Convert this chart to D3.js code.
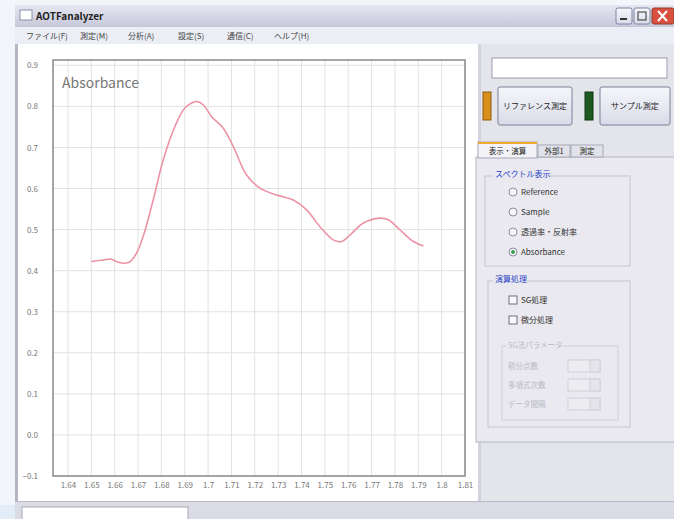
<!DOCTYPE html>
<html>
<head>
<meta charset="utf-8">
<title>AOTFanalyzer</title>
<script src="https://cdn.jsdelivr.net/npm/d3@7/dist/d3.min.js"></script>
<style>
    body { margin: 0; background: #fff; overflow: hidden; }
    text { font-family: "Noto Sans CJK JP", "Liberation Sans", sans-serif; }
</style>
</head>
<body>
<script>
    // spectrum
    var wavelength = [1.6501, 1.6551, 1.6587, 1.6609, 1.6644, 1.6666, 1.6694, 1.6722, 1.6765, 1.6808,
        1.6858, 1.6901, 1.6951, 1.6979, 1.7015, 1.7065, 1.7108, 1.7165, 1.7222, 1.7294,
        1.7365, 1.7422, 1.7479, 1.7536, 1.7572, 1.7608, 1.7665, 1.7736, 1.7772, 1.7822,
        1.7879, 1.7922];
    var absorbance = [0.422, 0.426, 0.428, 0.422, 0.418, 0.422, 0.443, 0.483, 0.572, 0.670,
        0.751, 0.796, 0.812, 0.804, 0.775, 0.747, 0.702, 0.633, 0.601, 0.584,
        0.572, 0.548, 0.507, 0.475, 0.471, 0.487, 0.516, 0.528, 0.524, 0.499,
        0.471, 0.460];

    var xTicks = [1.64, 1.65, 1.66, 1.67, 1.68, 1.69, 1.70, 1.71, 1.72, 1.73, 1.74, 1.75, 1.76, 1.77, 1.78, 1.79, 1.80, 1.81];
    var xTickLabels = ["1.64", "1.65", "1.66", "1.67", "1.68", "1.69", "1.7", "1.71", "1.72", "1.73", "1.74", "1.75", "1.76", "1.77", "1.78", "1.79", "1.8", "1.81"];
    var yTicks = [-0.1, 0, 0.1, 0.2, 0.3, 0.4, 0.5, 0.6, 0.7, 0.8, 0.9];

    var menuItems = ["ファイル(F)", "測定(M)", "分析(A)", "設定(S)", "通信(C)", "ヘルプ(H)"];
    var menuX = [26, 80, 128, 178, 227, 274];
    var tabNames = ["表示・演算", "外部1", "測定"];
    var spectrumModes = ["Reference", "Sample", "透過率・反射率", "Absorbance"];
    var procOptions = ["SG処理", "微分処理"];
    var sgParams = ["積分点数", "多項式次数", "データ間隔"];

    var W = 674, H = 519;
    var svg = d3.select("body").append("svg")
        .attr("width", W)
        .attr("height", H);

    var defs = svg.append("defs");
    var tg = defs.append("linearGradient").attr("id", "titleGrad").attr("x1", 0).attr("y1", 0).attr("x2", 0).attr("y2", 1);
    tg.append("stop").attr("offset", "0%").attr("stop-color", "#e6e7f1");
    tg.append("stop").attr("offset", "100%").attr("stop-color", "#c6c8da");
    var bg = defs.append("linearGradient").attr("id", "btnGrad").attr("x1", 0).attr("y1", 0).attr("x2", 0).attr("y2", 1);
    bg.append("stop").attr("offset", "0%").attr("stop-color", "#f6f7fb");
    bg.append("stop").attr("offset", "100%").attr("stop-color", "#d9dbe8");

    // ---- window chrome ----
    svg.append("rect").attr("width", W).attr("height", H).attr("fill", "#f3f5fa");
    svg.append("rect").attr("x", 15).attr("y", 5).attr("width", W - 15).attr("height", 22).attr("fill", "url(#titleGrad)");
    svg.append("rect").attr("x", 20).attr("y", 10).attr("width", 12).attr("height", 10)
        .attr("fill", "#fff").attr("stroke", "#8a8ea8");
    svg.append("text").attr("x", 36).attr("y", 20).attr("font-size", 10).attr("font-weight", "bold")
        .attr("fill", "#222").text("AOTFanalyzer");

    // min / max / close
    [616, 634].forEach(function (bx) {
        svg.append("rect").attr("x", bx).attr("y", 8).attr("width", 16).attr("height", 16)
            .attr("rx", 2).attr("fill", "url(#btnGrad)").attr("stroke", "#7f86a4");
    });
    svg.append("rect").attr("x", 620).attr("y", 18).attr("width", 7).attr("height", 2).attr("fill", "#333");
    svg.append("rect").attr("x", 638).attr("y", 12).attr("width", 8).attr("height", 8).attr("fill", "none").attr("stroke", "#333");
    svg.append("rect").attr("x", 652).attr("y", 8).attr("width", 22).attr("height", 16)
        .attr("rx", 2).attr("fill", "#d9503f").attr("stroke", "#8e3a30");
    svg.append("path").attr("d", "M658,11 L667,21 M667,11 L658,21").attr("stroke", "#fff").attr("stroke-width", 2);

    // menu bar
    svg.append("rect").attr("x", 15).attr("y", 27).attr("width", W - 15).attr("height", 17).attr("fill", "#eceef5");
    svg.selectAll(".menu").data(menuItems).enter().append("text")
        .attr("class", "menu")
        .attr("x", function (d, i) { return menuX[i]; })
        .attr("y", 39)
        .attr("font-size", 8)
        .attr("fill", "#444")
        .text(function (d) { return d; });

    // chart pane
    svg.append("rect").attr("x", 15).attr("y", 44).attr("width", 463).attr("height", 457).attr("fill", "#fff");
    svg.append("rect").attr("x", 15).attr("y", 44).attr("width", 3).attr("height", 457).attr("fill", "#b4b6c4");
    // right pane
    svg.append("rect").attr("x", 478).attr("y", 44).attr("width", W - 478).attr("height", 457).attr("fill", "#e4e4eb");
    svg.append("rect").attr("x", 478).attr("y", 44).attr("width", 3).attr("height", 457).attr("fill", "#d2d3dc");
    // status bar
    svg.append("rect").attr("x", 15).attr("y", 501).attr("width", W - 15).attr("height", 18).attr("fill", "#dadbe4");
    svg.append("line").attr("x1", 15).attr("x2", W).attr("y1", 501.5).attr("y2", 501.5).attr("stroke", "#b8bac6");
    svg.append("rect").attr("x", 22).attr("y", 507).attr("width", 166).attr("height", 14)
        .attr("fill", "#fff").attr("stroke", "#a8aab8");
    svg.append("rect").attr("x", 0).attr("y", 505).attr("width", 15).attr("height", 14).attr("fill", "#e3edf8");

    // ---- chart ----
    var plot = { left: 53, top: 60, right: 465, bottom: 476 };

    var x = d3.scaleLinear()
        .domain([1.6336, 1.81])
        .range([plot.left, plot.right]);
    var y = d3.scaleLinear()
        .domain([-0.1, 0.913])
        .range([plot.bottom, plot.top]);

    var chart = svg.append("g");

    chart.append("g")
        .selectAll("line").data(xTicks).enter().append("line")
        .attr("x1", function (d) { return x(d); })
        .attr("x2", function (d) { return x(d); })
        .attr("y1", plot.top)
        .attr("y2", plot.bottom)
        .attr("stroke", "#e2e2e2")
        .attr("stroke-width", 1);

    chart.append("g")
        .selectAll("line").data(yTicks).enter().append("line")
        .attr("x1", plot.left)
        .attr("x2", plot.right)
        .attr("y1", function (d) { return y(d); })
        .attr("y2", function (d) { return y(d); })
        .attr("stroke", "#e2e2e2")
        .attr("stroke-width", 1);

    chart.append("rect")
        .attr("x", plot.left).attr("y", plot.top)
        .attr("width", plot.right - plot.left).attr("height", plot.bottom - plot.top)
        .attr("fill", "none").attr("stroke", "#8a8a8a").attr("stroke-width", 1.5);

    var yAxis = chart.append("g")
        .attr("transform", "translate(" + plot.left + ",0)")
        .call(d3.axisLeft(y).tickValues(yTicks).tickFormat(d3.format(".1f")).tickSize(0).tickPadding(15));
    yAxis.select(".domain").remove();
    yAxis.selectAll("text").attr("font-size", 8).attr("fill", "#777")
        .attr("font-family", "Liberation Sans, sans-serif");

    var xAxis = chart.append("g")
        .attr("transform", "translate(0," + plot.bottom + ")")
        .call(d3.axisBottom(x).tickValues(xTicks)
            .tickFormat(function (d, i) { return xTickLabels[i]; })
            .tickSize(0).tickPadding(6));
    xAxis.select(".domain").remove();
    xAxis.selectAll("text").attr("font-size", 8).attr("fill", "#777")
        .attr("font-family", "Liberation Sans, sans-serif");

    chart.append("text")
        .attr("x", 62).attr("y", 88)
        .attr("font-size", 14)
        .attr("font-family", "Liberation Sans, sans-serif")
        .attr("fill", "#777")
        .text("Absorbance");

    var line = d3.line()
        .x(function (d, i) { return x(wavelength[i]); })
        .y(function (d) { return y(d); })
        .curve(d3.curveCatmullRom);

    chart.append("path")
        .datum(absorbance)
        .attr("d", line)
        .attr("fill", "none")
        .attr("stroke", "#ec93a6")
        .attr("stroke-width", 1.6);

    // ---- right control panel ----
    var panel = svg.append("g");
    panel.append("rect").attr("x", 492).attr("y", 58).attr("width", 175).attr("height", 20)
        .attr("fill", "#fff").attr("stroke", "#9a9cae");

    panel.append("rect").attr("x", 483).attr("y", 92).attr("width", 8).attr("height", 28)
        .attr("fill", "#d9901a").attr("stroke", "#8c5a10");
    panel.append("rect").attr("x", 498).attr("y", 87).attr("width", 74).attr("height", 38)
        .attr("rx", 2).attr("fill", "url(#btnGrad)").attr("stroke", "#7d8099");
    panel.append("text").attr("x", 535).attr("y", 109).attr("text-anchor", "middle")
        .attr("font-size", 8).attr("fill", "#222").text("リファレンス測定");
    panel.append("rect").attr("x", 585).attr("y", 92).attr("width", 8).attr("height", 28)
        .attr("fill", "#1d5a22").attr("stroke", "#0f3512");
    panel.append("rect").attr("x", 600).attr("y", 87).attr("width", 70).attr("height", 38)
        .attr("rx", 2).attr("fill", "url(#btnGrad)").attr("stroke", "#7d8099");
    panel.append("text").attr("x", 635).attr("y", 109).attr("text-anchor", "middle")
        .attr("font-size", 8).attr("fill", "#222").text("サンプル測定");

    // tab page + tabs
    panel.append("rect").attr("x", 476).attr("y", 157).attr("width", 200).attr("height", 285)
        .attr("fill", "#e9e9ef").attr("stroke", "#b4b6c4");
    var tabX = [478, 538, 571], tabW = [59, 32, 32];
    tabNames.forEach(function (t, i) {
        panel.append("rect").attr("x", tabX[i]).attr("y", i === 0 ? 142 : 145)
            .attr("width", tabW[i]).attr("height", i === 0 ? 16 : 12)
            .attr("fill", i === 0 ? "#f4f4f8" : "#e1e2ea").attr("stroke", "#a6a8b8");
        panel.append("text").attr("x", tabX[i] + tabW[i] / 2).attr("y", 154)
            .attr("text-anchor", "middle")
            .attr("font-size", 7.5).attr("fill", "#222").text(t);
    });
    panel.append("rect").attr("x", 478).attr("y", 142).attr("width", 59).attr("height", 2).attr("fill", "#f0a830");

    // spectrum display group
    panel.append("rect").attr("x", 485).attr("y", 176).attr("width", 145).attr("height", 90)
        .attr("fill", "none").attr("stroke", "#c4c6d2");
    panel.append("rect").attr("x", 493).attr("y", 168).attr("width", 56).attr("height", 11).attr("fill", "#e9e9ef");
    panel.append("text").attr("x", 495).attr("y", 177).attr("font-size", 8).attr("fill", "#2b3fc8").text("スペクトル表示");
    spectrumModes.forEach(function (m, i) {
        var cy = 192 + i * 20;
        panel.append("circle").attr("cx", 513).attr("cy", cy).attr("r", 4)
            .attr("fill", "#f6f6fa").attr("stroke", "#8c8ea0");
        if (i === 3) {
            panel.append("circle").attr("cx", 513).attr("cy", cy).attr("r", 2).attr("fill", "#3aa050");
        }
        panel.append("text").attr("x", 521).attr("y", cy + 3).attr("font-size", 8).attr("fill", "#333").text(m);
    });

    // processing group
    panel.append("rect").attr("x", 488).attr("y", 281).attr("width", 142).attr("height", 146)
        .attr("fill", "none").attr("stroke", "#c4c6d2");
    panel.append("rect").attr("x", 493).attr("y", 273).attr("width", 34).attr("height", 11).attr("fill", "#e9e9ef");
    panel.append("text").attr("x", 495).attr("y", 282).attr("font-size", 8).attr("fill", "#2b3fc8").text("演算処理");
    procOptions.forEach(function (p, i) {
        var cy = 300 + i * 20;
        panel.append("rect").attr("x", 509).attr("y", cy - 4).attr("width", 8).attr("height", 8)
            .attr("fill", "#f8f8fc").attr("stroke", "#6e7084");
        panel.append("text").attr("x", 521).attr("y", cy + 3).attr("font-size", 8).attr("fill", "#333").text(p);
    });

    // disabled SG parameter group
    panel.append("rect").attr("x", 502).attr("y", 346).attr("width", 116).attr("height", 74)
        .attr("fill", "none").attr("stroke", "#cfd0da");
    panel.append("rect").attr("x", 506).attr("y", 339).attr("width", 56).attr("height", 11).attr("fill", "#e9e9ef");
    panel.append("text").attr("x", 508).attr("y", 348).attr("font-size", 7.5).attr("fill", "#b8b9c4").text("SG法パラメータ");
    sgParams.forEach(function (p, i) {
        var cy = 366 + i * 19;
        panel.append("text").attr("x", 508).attr("y", cy + 3).attr("font-size", 7.5).attr("fill", "#b8b9c4").text(p);
        panel.append("rect").attr("x", 568).attr("y", cy - 6).attr("width", 32).attr("height", 12)
            .attr("fill", "#ececf1").attr("stroke", "#cfd0da");
        panel.append("rect").attr("x", 590).attr("y", cy - 6).attr("width", 10).attr("height", 12)
            .attr("fill", "#e4e4ea").attr("stroke", "#cfd0da");
    });
</script>
</body>
</html>
